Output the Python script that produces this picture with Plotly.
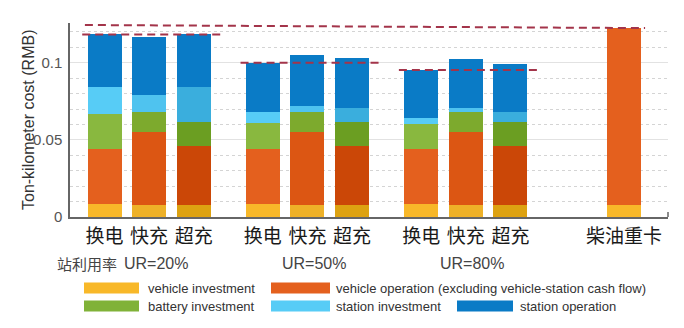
import plotly.graph_objects as go

# ---- data -------------------------------------------------------------
categories = ["换电", "快充", "超充"] * 3 + ["柴油重卡"]
x_pos = [1, 2, 3, 4.55, 5.55, 6.55, 8.1, 9.1, 10.1, 12.65]
group_labels = ["UR=20%", "UR=50%", "UR=80%"]

vehicle_investment = [0.0087, 0.0078, 0.0078, 0.0087, 0.0078, 0.0078, 0.0087, 0.0078, 0.0078, 0.0080]
vehicle_operation = [0.0357, 0.0474, 0.0383, 0.0357, 0.0474, 0.0383, 0.0357, 0.0474, 0.0383, 0.1145]
battery_investment = [0.0221, 0.0126, 0.0156, 0.0166, 0.0126, 0.0156, 0.0156, 0.0126, 0.0156, 0.0]
station_investment = [0.0175, 0.0112, 0.0223, 0.0072, 0.0045, 0.0093, 0.0043, 0.0030, 0.0061, 0.0]
station_operation = [0.0344, 0.0375, 0.0344, 0.0318, 0.0325, 0.0318, 0.0310, 0.0314, 0.0314, 0.0]

# left end of the diesel reference line
diesel_line_start = 0.1245

series = [
    ("vehicle investment", vehicle_investment),
    ("vehicle operation (excluding vehicle-station cash flow)", vehicle_operation),
    ("battery investment", battery_investment),
    ("station investment", station_investment),
    ("station operation", station_operation),
]

# ---- styles -----------------------------------------------------------
# per technology shade: 换电, 快充, 超充, diesel
shades = {
    "vehicle investment": ["#F8B829", "#EEB128", "#DDA211", "#F8B829"],
    "vehicle operation (excluding vehicle-station cash flow)": ["#E4601E", "#DC5613", "#CB4707", "#E4601E"],
    "battery investment": ["#89B83F", "#7DAA2D", "#6B9E22", "#89B83F"],
    "station investment": ["#57CCF6", "#4FC3EF", "#3AAEDD", "#57CCF6"],
    "station operation": ["#0A7BC6", "#0A7BC6", "#0A7BC6", "#0A7BC6"],
}
swatch = {
    "vehicle investment": "#F8B829",
    "vehicle operation (excluding vehicle-station cash flow)": "#E4601E",
    "battery investment": "#80B238",
    "station investment": "#57CCF6",
    "station operation": "#0A7BC6",
}
tech_index = [0, 1, 2] * 3 + [3]

W, H = 684, 328
ML, MR, MT, MB = 70, 16, 23, 111
PW, PH = W - ML - MR, H - MT - MB


def px_x(X):
    return (X - ML) / PW


def px_y(Y):
    return (H - MB - Y) / PH


fig = go.Figure()
for name, vals in series:
    fig.add_trace(go.Bar(
        x=x_pos, y=vals, name=name, width=0.762,
        marker=dict(color=[shades[name][i] for i in tech_index], line=dict(width=0)),
        showlegend=False,
    ))

totals = [sum(v) for v in zip(*[s[1] for s in series])]

shapes = []
dash_style = dict(color="#A3344A", width=2, dash="8px,5px")
# group reference lines at the swap-station cost
for g in range(3):
    first, last = 3 * g, 3 * g + 2
    shapes.append(dict(type="line", xref="x", yref="y",
                       x0=x_pos[first] - 0.5, x1=x_pos[last] + 0.6,
                       y0=totals[first], y1=totals[first], line=dash_style))
# diesel truck reference line
shapes.append(dict(type="line", xref="x", yref="y",
                   x0=x_pos[0] - 0.44, x1=x_pos[-1] + 0.47,
                   y0=diesel_line_start, y1=totals[-1], line=dash_style))
# small tick at the right end of the x axis
shapes.append(dict(type="line", xref="paper", yref="paper",
                   x0=1, x1=1, y0=0, y1=px_y(H - MB - 5),
                   line=dict(color="#666", width=1.5)))

annotations = []
# y axis title
annotations.append(dict(text="Ton-kilometer cost (RMB)", textangle=-90,
                        xref="paper", yref="paper", x=px_x(28), y=px_y(120),
                        xanchor="center", yanchor="middle", showarrow=False,
                        font=dict(family="Liberation Sans, Arial", size=16, color="#333")))
# utilisation row
annotations.append(dict(text="站利用率", xref="paper", yref="paper",
                        x=px_x(55), y=px_y(263), xanchor="left", yanchor="middle",
                        showarrow=False,
                        font=dict(family="Noto Sans CJK SC", size=15, color="#444")))
for g, lab in enumerate(group_labels):
    annotations.append(dict(text=lab, xref="x", yref="paper",
                            x=x_pos[3 * g + 1] + 0.15, y=px_y(263),
                            xanchor="center", yanchor="middle", showarrow=False,
                            font=dict(family="Liberation Sans, Arial", size=16, color="#444")))

# hand-laid legend: (series, swatch left, swatch right, text left, row centre)
legend_layout = [
    ("vehicle investment", 84, 139, 146, 288),
    ("vehicle operation (excluding vehicle-station cash flow)", 271, 330, 334, 288),
    ("battery investment", 84, 139, 146, 306),
    ("station investment", 271, 330, 334, 306),
    ("station operation", 457, 513, 518, 306),
]
for name, sx0, sx1, tx, cy in legend_layout:
    shapes.append(dict(type="rect", xref="paper", yref="paper",
                       x0=px_x(sx0), x1=px_x(sx1), y0=px_y(cy + 5.5), y1=px_y(cy - 5.5),
                       fillcolor=swatch[name], line=dict(width=0)))
    annotations.append(dict(text=name, xref="paper", yref="paper",
                            x=px_x(tx), y=px_y(cy), xanchor="left", yanchor="middle",
                            showarrow=False,
                            font=dict(family="Liberation Sans, Arial", size=13, color="#333")))

fig.update_layout(
    width=W, height=H,
    margin=dict(l=ML, r=MR, t=MT, b=MB, pad=0),
    paper_bgcolor="white", plot_bgcolor="white",
    barmode="stack", bargap=0,
    shapes=shapes, annotations=annotations,
    xaxis=dict(
        range=[0.226, 13.634], tickmode="array", tickvals=x_pos, ticktext=categories,
        showgrid=False, zeroline=False, showline=True, linecolor="#666", linewidth=1.5,
        ticks="", ticklabelstandoff=1,
        tickfont=dict(family="Noto Sans CJK SC", size=19, color="#1a1a1a"),
    ),
    yaxis=dict(
        range=[0, 0.1258], tickmode="array", tickvals=[0, 0.05, 0.1],
        ticktext=["0", "0.05", "0.1"],
        showgrid=True, gridcolor="#E2E2E2", gridwidth=1,
        minor=dict(tickmode="linear", tick0=0, dtick=0.01, showgrid=True,
                   gridcolor="#D4D4D4", griddash="dot", gridwidth=1, ticks=""),
        zeroline=False, showline=True, linecolor="#666", linewidth=1.5,
        ticks="", ticklabelstandoff=3,
        tickfont=dict(family="Liberation Sans, Arial", size=15, color="#555"),
    ),
)

fig.write_html("out.html")
